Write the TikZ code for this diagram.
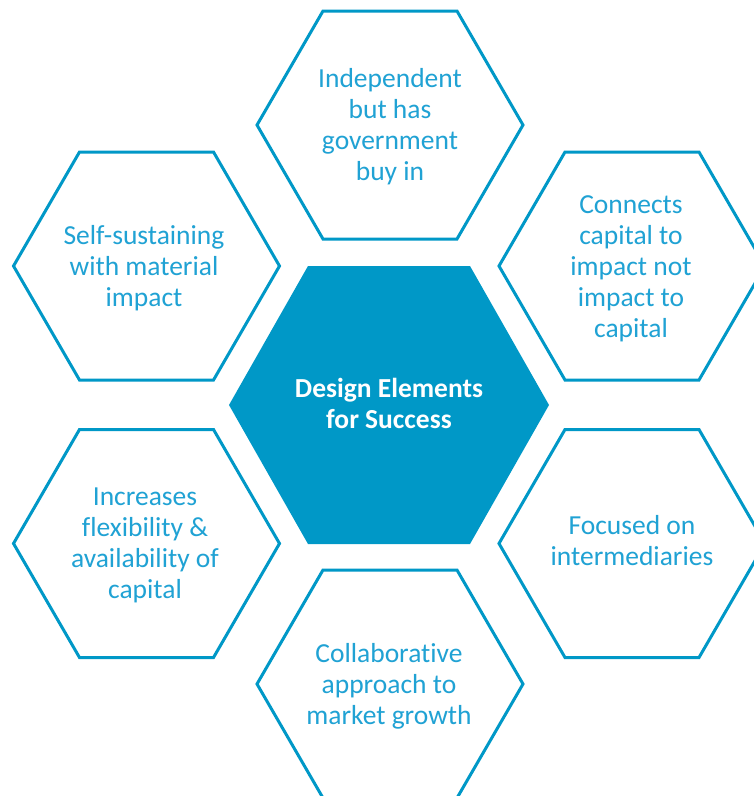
\documentclass[tikz,border=0pt]{standalone}
\usepackage{fontspec}
\setmainfont{Carlito}[Ligatures=NoCommon]
\definecolor{hexblue}{RGB}{0,152,199}
\definecolor{txtblue}{RGB}{32,162,212}
\newcommand{\hexat}[5]{% cx cy w t h
  (#1-#3,#2) -- (#1-#4,#2-#5) -- (#1+#4,#2-#5) -- (#1+#3,#2) -- (#1+#4,#2+#5) -- (#1-#4,#2+#5) -- cycle}
\begin{document}
\begin{tikzpicture}[x=1pt,y=-1pt,
  hexline/.style={draw=hexblue,line width=3pt,line join=miter},
  hexfill/.style={fill=hexblue},
  lbl/.style={text=txtblue,align=center,font=\fontsize{27.5}{31}\selectfont,inner sep=0pt},
  mainlbl/.style={text=white,align=center,font=\fontsize{27.5}{31}\selectfont\bfseries,inner sep=0pt}]
\useasboundingbox (0,0) rectangle (754,796);
\clip (0,0) rectangle (754,796);
\fill[white] (0,0) rectangle (754,796);
% outer hexagons
\draw[hexline] \hexat{390}{125}{133}{67}{114};
\draw[hexline] \hexat{146.5}{266}{133}{67}{114};
\draw[hexline] \hexat{632}{266}{133}{67}{114};
\draw[hexline] \hexat{146.5}{543.5}{133}{67}{114};
\draw[hexline] \hexat{632}{543.5}{133}{67}{114};
\draw[hexline] \hexat{390}{684}{133}{67}{114};
% centre hexagon
\fill[hexfill] \hexat{389}{405}{160}{81}{139};
% labels
\node[mainlbl] (center) at (389,403) {Design Elements\\for Success};
\node[lbl] (top) at (390,127) {Independent\\but has\\government\\buy in};
\node[lbl] (lu) at (144,268) {Self-sustaining\\with material\\impact};
\node[lbl] (ru) at (631,268.5) {Connects\\capital to\\impact not\\impact to\\capital};
\node[lbl] (ll) at (145,545) {Increases\\flexibility \&\\availability of\\capital};
\node[lbl] (rl) at (632,541) {Focused on\\intermediaries};
\node[lbl] (bot) at (389,686) {Collaborative\\approach to\\market growth};
\end{tikzpicture}
\end{document}
